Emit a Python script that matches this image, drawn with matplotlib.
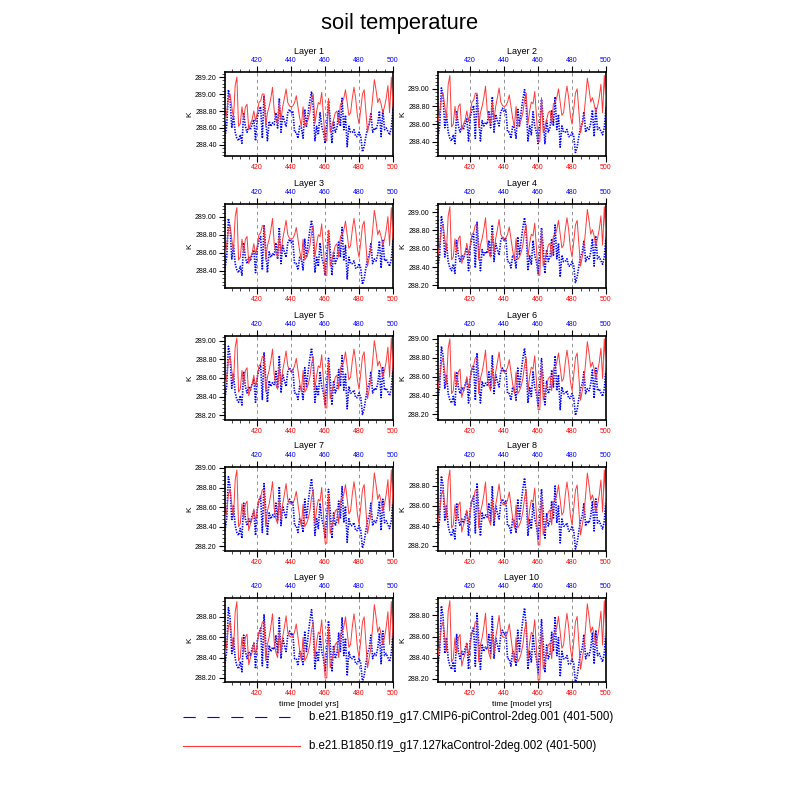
import numpy as np
import matplotlib
matplotlib.use("Agg")
import matplotlib.pyplot as plt

plt.rcParams['font.family'] = ['Liberation Sans', 'DejaVu Sans']

# years 401..500
years = np.arange(401, 501)

# Layer 1 series (K)
red_l1 = [288.68, 288.78, 288.95, 289.00, 288.85, 288.72, 289.10, 289.20, 288.62, 288.65,
          288.85, 288.70, 288.85, 288.88, 288.58, 288.65, 288.70, 288.80, 288.68, 288.78,
          288.90, 288.92, 289.00, 289.00, 288.62, 288.78, 288.85, 288.95, 289.08, 288.80,
          288.70, 288.65, 288.90, 288.70, 288.85, 288.95, 289.06, 288.90, 288.86, 288.85,
          288.86, 288.90, 288.98, 288.85, 288.72, 288.62, 288.85, 288.62, 288.65, 288.70,
          288.78, 288.92, 289.00, 288.65, 288.80, 288.90, 288.88, 289.02, 288.75, 288.45,
          288.45, 288.95, 288.55, 288.62, 288.70, 288.78, 288.80, 288.65, 288.88, 288.90,
          288.95, 289.05, 288.90, 288.75, 288.78, 288.95, 289.08, 288.95, 288.75, 288.65,
          288.82, 289.00, 289.05, 288.80, 288.55, 288.65, 288.75, 288.95, 289.17, 289.05,
          288.90, 288.95, 288.88, 288.78, 288.85, 288.95, 289.10, 288.78, 289.20, 288.85]

blue_l1 = [288.50, 288.62, 289.05, 288.95, 288.60, 288.75, 288.55, 288.48, 288.45, 288.52,
           288.42, 288.78, 288.62, 288.55, 288.62, 288.58, 288.65, 288.70, 288.45, 288.72,
           288.80, 288.85, 288.48, 288.98, 288.70, 288.45, 288.68, 288.62, 288.66, 288.64,
           288.78, 288.60, 288.95, 288.55, 288.75, 288.68, 288.62, 288.78, 288.82, 288.78,
           288.80, 288.55, 288.55, 288.48, 288.62, 288.60, 288.48, 288.82, 288.62, 288.78,
           288.92, 289.03, 288.85, 288.45, 288.62, 288.52, 288.78, 288.62, 288.55, 288.42,
           288.65, 288.92, 288.70, 288.42, 288.68, 288.55, 288.60, 288.80, 288.62, 288.95,
           288.58, 288.75, 288.38, 288.62, 288.55, 288.55, 288.58, 288.50, 288.50, 288.55,
           288.50, 288.32, 288.38, 288.50, 288.60, 288.65, 288.78, 288.55, 288.60, 288.58,
           288.65, 288.80, 288.50, 288.82, 288.58, 288.60, 288.56, 288.52, 288.60, 288.82]

# shift of each deeper layer relative to layer 1
red_shift = [0.0, -0.05, -0.10, -0.14, -0.17, -0.20, -0.22, -0.24, -0.25, -0.26]
blue_shift = [0.0, -0.04, -0.07, -0.09, -0.11, -0.13, -0.14, -0.15, -0.16, -0.16]

# y ranges of the panels
ylims = [(288.27, 289.26), (288.24, 289.19), (288.21, 289.14), (288.17, 289.09),
         (288.15, 289.05), (288.14, 289.03), (288.15, 289.01), (288.15, 288.99),
         (288.16, 288.985), (288.17, 288.965)]

xticks = [420, 440, 460, 480, 500]
label_pi = "b.e21.B1850.f19_g17.CMIP6-piControl-2deg.001 (401-500)"
label_127 = "b.e21.B1850.f19_g17.127kaControl-2deg.002 (401-500)"

fig = plt.figure(figsize=(8, 8), dpi=100)
fig.text(0.5, 1 - 23 / 800, "soil temperature", ha="center", va="center", fontsize=15.8)

col_left = [225 / 800, 438 / 800]
ax_w = 168 / 800
row_top = [72, 204, 336, 467, 598]
ax_h = 84 / 800

for i in range(10):
    r, c = divmod(i, 2)
    ax = fig.add_axes([col_left[c], 1 - (row_top[r] + 84) / 800, ax_w, ax_h])
    red = np.array(red_l1) + red_shift[i]
    blue = np.array(blue_l1) + blue_shift[i]
    for xv in [420, 440, 460, 480]:
        ax.axvline(xv, color="gray", lw=0.6, ls=(0, (4, 4)), zorder=1)
    ax.plot(years, blue, color="blue", lw=1.2, ls=(0, (0.8, 0.8)), zorder=2)
    ax.plot(years, red, color="#ff3a3a", lw=0.7, zorder=3)
    ax.set_xlim(401, 500)
    ax.set_ylim(*ylims[i])
    ax.set_xticks(xticks)
    ax.set_xticks(np.arange(405, 501, 5), minor=True)
    ax.tick_params(axis="x", which="both", direction="out", labelsize=5,
                   labelcolor="red", top=True, labeltop=False, pad=2)
    ax.tick_params(axis="x", which="major", length=4, width=0.8)
    ax.tick_params(axis="x", which="minor", length=2, width=0.5)
    ax.yaxis.set_major_locator(matplotlib.ticker.MultipleLocator(0.2))
    ax.yaxis.set_minor_locator(matplotlib.ticker.MultipleLocator(0.04))
    ax.yaxis.set_major_formatter(matplotlib.ticker.FormatStrFormatter("%.2f"))
    ax.tick_params(axis="y", which="both", direction="out", labelsize=5, right=False, pad=2)
    ax.tick_params(axis="y", which="major", length=4, width=0.8)
    ax.tick_params(axis="y", which="minor", length=2, width=0.5)
    for s in ax.spines.values():
        s.set_linewidth(1.2)
    ax.set_ylabel("K", fontsize=6, labelpad=1)
    ax.text(0.5, 1 + 21 / 84, "Layer %d" % (i + 1), transform=ax.transAxes,
            ha="center", va="center", fontsize=6.5)
    top = ax.secondary_xaxis("top")
    top.set_xticks(xticks)
    top.tick_params(axis="x", direction="out", labelsize=5, labelcolor="blue",
                    length=0, pad=6)
    for s in top.spines.values():
        s.set_visible(False)
    if r == 4:
        ax.set_xlabel("time [model yrs]", fontsize=6, labelpad=3)

# legend drawn in figure coordinates
fig.add_artist(plt.Line2D([183 / 800, 290 / 800], [1 - 717 / 800] * 2, color="blue",
                          lw=0.8, ls=(0, (11, 10.5)), transform=fig.transFigure))
fig.text(309 / 800, 1 - 717 / 800, label_pi, fontsize=8.3, va="center")
fig.add_artist(plt.Line2D([183 / 800, 300 / 800], [1 - 746 / 800] * 2, color="#ff3a3a",
                          lw=0.8, transform=fig.transFigure))
fig.text(309 / 800, 1 - 746 / 800, label_127, fontsize=8.3, va="center")

fig.savefig("out.png", dpi=100)
